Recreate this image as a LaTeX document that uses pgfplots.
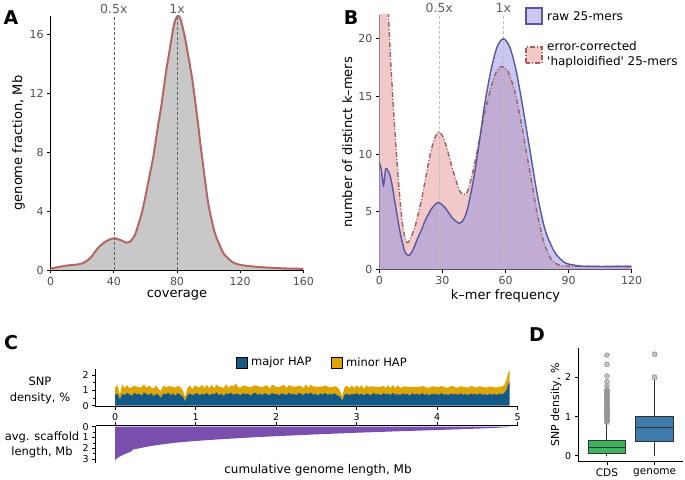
\documentclass[border=0pt]{standalone}
\usepackage{fontspec}
\setmainfont{DejaVu Sans}[Ligatures=TeXOff]
\usepackage{pgfplots}
\usepackage{pgfplotstable}
\pgfplotsset{compat=1.18}
\usepgfplotslibrary{statistics}

\definecolor{tickgray}{RGB}{77,77,77}
\definecolor{labgray}{RGB}{96,96,96}
\definecolor{afill}{RGB}{200,200,200}
\definecolor{aline}{RGB}{180,102,102}
\definecolor{rawline}{RGB}{88,88,160}
\definecolor{rawfill}{RGB}{145,145,225}
\definecolor{ecfill}{RGB}{242,200,200}
\definecolor{ecline}{RGB}{160,96,96}
\definecolor{majblue}{RGB}{20,88,133}
\definecolor{mingold}{RGB}{222,165,0}
\definecolor{scpurple}{RGB}{122,78,172}
\definecolor{cdsgreen}{RGB}{61,181,95}
\definecolor{genblue}{RGB}{62,122,170}
\definecolor{boxline}{RGB}{51,51,51}
\definecolor{outgray}{RGB}{150,150,150}

\pgfplotsset{
  base/.style={scale only axis, anchor=south west,
    axis x line*=bottom, axis y line*=left, tick align=outside,
    axis line style={line width=1.1pt, black},
    every tick/.style={black, line width=0.8pt}, major tick length=3.5pt,
    /pgf/number format/assume math mode=true, clip mode=individual},
}

\pgfplotstableread{
x maj mnr
0.00 0.72 0.48
0.03 0.80 0.55
0.06 0.42 0.30
0.09 0.78 0.62
0.12 0.70 0.45
0.15 0.84 0.52
0.18 0.74 0.40
0.21 0.66 0.56
0.24 0.86 0.46
0.27 0.73 0.52
0.30 0.80 0.40
0.33 0.65 0.58
0.36 0.88 0.52
0.39 0.76 0.42
0.42 0.70 0.62
0.45 0.83 0.38
0.48 0.63 0.50
0.51 0.78 0.56
0.54 0.72 0.36
0.57 0.52 0.45
0.60 0.80 0.54
0.63 0.74 0.48
0.66 0.86 0.40
0.69 0.70 0.58
0.72 0.79 0.44
0.75 0.66 0.53
0.78 0.84 0.46
0.81 0.72 0.50
0.84 0.62 0.40
0.87 0.30 0.26
0.90 0.70 0.46
0.93 0.81 0.53
0.96 0.68 0.40
0.99 0.77 0.56
1.02 0.83 0.42
1.05 0.69 0.50
1.08 0.78 0.60
1.11 0.72 0.44
1.14 0.85 0.52
1.17 0.67 0.47
1.20 0.80 0.58
1.23 0.74 0.41
1.26 0.88 0.50
1.29 0.70 0.55
1.32 0.79 0.45
1.35 0.64 0.52
1.38 0.82 0.60
1.41 0.75 0.42
1.44 0.86 0.48
1.47 0.71 0.56
1.50 0.80 0.66
1.53 0.76 0.44
1.56 0.68 0.52
1.59 0.84 0.47
1.62 0.73 0.58
1.65 0.81 0.43
1.68 0.66 0.55
1.71 0.79 0.50
1.74 0.87 0.46
1.77 0.72 0.60
1.80 0.80 0.42
1.83 0.69 0.53
1.86 0.83 0.48
1.89 0.75 0.56
1.92 0.70 0.44
1.95 0.85 0.51
1.98 0.74 0.58
2.01 0.79 0.42
2.04 0.67 0.55
2.07 0.82 0.49
2.10 0.76 0.61
2.13 0.71 0.44
2.16 0.86 0.50
2.19 0.73 0.56
2.22 0.80 0.43
2.25 0.68 0.58
2.28 0.84 0.47
2.31 0.77 0.52
2.34 0.70 0.45
2.37 0.83 0.57
2.40 0.75 0.42
2.43 0.88 0.50
2.46 0.72 0.55
2.49 0.79 0.46
2.52 0.66 0.58
2.55 0.81 0.44
2.58 0.74 0.52
2.61 0.85 0.48
2.64 0.70 0.56
2.67 0.78 0.42
2.70 0.73 0.50
2.73 0.82 0.46
2.76 0.68 0.54
2.79 0.62 0.40
2.82 0.35 0.28
2.85 0.72 0.48
2.88 0.80 0.52
2.91 0.69 0.45
2.94 0.78 0.56
2.97 0.74 0.42
3.00 0.83 0.50
3.03 0.71 0.47
3.06 0.79 0.55
3.09 0.67 0.44
3.12 0.81 0.52
3.15 0.75 0.48
3.18 0.70 0.57
3.21 0.84 0.43
3.24 0.73 0.51
3.27 0.78 0.46
3.30 0.68 0.54
3.33 0.82 0.49
3.36 0.74 0.42
3.39 0.79 0.55
3.42 0.70 0.47
3.45 0.85 0.50
3.48 0.72 0.44
3.51 0.77 0.56
3.54 0.69 0.48
3.57 0.81 0.42
3.60 0.74 0.53
3.63 0.78 0.47
3.66 0.67 0.55
3.69 0.82 0.44
3.72 0.73 0.50
3.75 0.79 0.46
3.78 0.70 0.52
3.81 0.84 0.45
3.84 0.72 0.55
3.87 0.77 0.42
3.90 0.68 0.50
3.93 0.80 0.47
3.96 0.74 0.53
3.99 0.78 0.44
4.02 0.71 0.51
4.05 0.83 0.46
4.08 0.73 0.52
4.11 0.76 0.43
4.14 0.69 0.50
4.17 0.81 0.47
4.20 0.74 0.54
4.23 0.78 0.42
4.26 0.70 0.49
4.29 0.82 0.46
4.32 0.73 0.52
4.35 0.77 0.44
4.38 0.69 0.50
4.41 0.80 0.48
4.44 0.74 0.53
4.47 0.78 0.43
4.50 0.71 0.49
4.53 0.83 0.46
4.56 0.72 0.51
4.59 0.76 0.44
4.62 0.70 0.50
4.65 0.79 0.47
4.68 0.73 0.52
4.71 0.77 0.43
4.74 0.71 0.48
4.77 0.80 0.46
4.80 0.74 0.50
4.83 0.82 0.52
4.86 1.05 0.62
4.88 1.40 0.75
4.90 1.55 0.78
}\snptab

\begin{document}
\begin{tikzpicture}
\useasboundingbox (0pt,0pt) rectangle (685pt,479pt);

% ---------------- Panel A ----------------
\begin{axis}[base, at={(50.7pt,209pt)}, width=252.6pt, height=254pt,
  xmin=0, xmax=160, ymin=0, ymax=17.24,
  xtick={0,40,80,120,160}, ytick={0,4,8,12,16},
  ticklabel style={font=\fontsize{11}{13}\selectfont, text=tickgray},
  xlabel={coverage}, ylabel={genome fraction, Mb},
  label style={font=\fontsize{13}{15}\selectfont},
  xlabel style={yshift=2pt}, ylabel style={yshift=-2pt}]
\addplot[fill=afill, draw=none, smooth] coordinates {
(0,0.1) (5,0.2) (10,0.3) (15,0.35) (20,0.45) (25,0.8) (30,1.5) (35,1.95)
(40,2.15) (45,2.0) (48,1.85) (50,1.9) (53,2.3) (55,2.9) (58,4.0) (60,5.0)
(63,6.6) (65,7.7) (68,9.8) (70,11.1) (73,13.4) (75,14.7) (78,16.6) (80,17.2)
(82,17.1) (85,15.8) (88,14.0) (90,12.7) (93,10.2) (95,8.4) (98,5.9) (100,4.4)
(103,2.9) (105,2.2) (108,1.45) (110,1.05) (115,0.55) (120,0.35) (130,0.22)
(140,0.15) (150,0.1) (160,0.08)} \closedcycle;
\addplot[color=aline, line width=2pt, smooth] coordinates {
(0,0.1) (5,0.2) (10,0.3) (15,0.35) (20,0.45) (25,0.8) (30,1.5) (35,1.95)
(40,2.15) (45,2.0) (48,1.85) (50,1.9) (53,2.3) (55,2.9) (58,4.0) (60,5.0)
(63,6.6) (65,7.7) (68,9.8) (70,11.1) (73,13.4) (75,14.7) (78,16.6) (80,17.2)
(82,17.1) (85,15.8) (88,14.0) (90,12.7) (93,10.2) (95,8.4) (98,5.9) (100,4.4)
(103,2.9) (105,2.2) (108,1.45) (110,1.05) (115,0.55) (120,0.35) (130,0.22)
(140,0.15) (150,0.1) (160,0.08)};
\addplot[densely dashed, color=labgray, line width=0.6pt] coordinates {(40,0) (40,17.24)};
\addplot[densely dashed, color=labgray, line width=0.6pt] coordinates {(80,0) (80,17.24)};
\node[above, inner sep=2pt, text=labgray, font=\fontsize{12.5}{14}\selectfont] at (axis cs:40,17.24) {0.5x};
\node[above, inner sep=2pt, text=labgray, font=\fontsize{12.5}{14}\selectfont] at (axis cs:80,17.24) {1x};
\end{axis}

% ---------------- Panel B ----------------
\begin{axis}[base, at={(379.3pt,209.7pt)}, width=252.4pt, height=254.3pt,
  xmin=0, xmax=120, ymin=0, ymax=22.07,
  xtick={0,30,60,90,120}, ytick={0,5,10,15,20},
  ticklabel style={font=\fontsize{11}{13}\selectfont, text=tickgray},
  xlabel={k–mer frequency}, ylabel={number of distinct k–mers},
  label style={font=\fontsize{13}{15}\selectfont},
  xlabel style={yshift=2pt}, ylabel style={yshift=-1pt}]
\addplot[fill=ecfill, draw=none, smooth] coordinates {
(0,90) (1,70) (2,52) (3,36) (4,24.5) (5,19.5) (6,16.2) (7,13.2) (8,10.4) (9,7.9)
(10,5.7) (11,4.0) (12,2.9) (13,2.35) (14,2.4) (15,2.8) (17,3.7) (20,6.0) (22,7.9)
(24,9.8) (26,11.2) (28,11.9) (30,11.6) (32,10.6) (35,8.6) (38,6.9) (40,6.5)
(42,6.8) (45,8.9) (48,11.7) (50,13.5) (53,15.7) (55,16.9) (58,17.6) (61,17.2)
(63,16.3) (65,15.0) (68,12.2) (70,10.1) (73,7.0) (75,4.9) (78,2.5) (80,1.5)
(82,0.8) (85,0.4) (90,0.28) (120,0.25)} \closedcycle;
\addplot[fill=rawfill, fill opacity=0.5, draw=none, smooth] coordinates {
(0,9.3) (1,8.6) (2,7.3) (3,8.7) (4,8.6) (5,8.2) (6,7.4) (7,6.3) (8,5.2) (9,4.1)
(10,3.1) (11,2.3) (12,1.6) (13,1.3) (14,1.2) (15,1.35) (16,1.7) (17,2.1) (18,2.6)
(20,3.4) (22,4.3) (25,5.3) (28,5.8) (31,5.4) (33,4.9) (35,4.4) (38,4.0) (40,4.3)
(42,5.3) (45,8.0) (48,11.6) (50,14.2) (53,17.2) (56,19.3) (59,20.0) (62,19.3)
(65,17.3) (68,14.3) (70,12.1) (72,9.9) (75,6.6) (78,4.0) (80,2.8) (83,1.6)
(85,1.1) (88,0.6) (90,0.45) (95,0.3) (100,0.25) (120,0.25)} \closedcycle;
\addplot[densely dashed, color=black!25, line width=0.6pt] coordinates {(28.5,0) (28.5,22.07)};
\addplot[densely dashed, color=black!25, line width=0.6pt] coordinates {(59,0) (59,22.07)};
\addplot[color=ecline, line width=1.4pt, smooth, dash pattern=on 5pt off 2pt on 1pt off 2pt] coordinates {
(0,90) (1,70) (2,52) (3,36) (4,24.5) (5,19.5) (6,16.2) (7,13.2) (8,10.4) (9,7.9)
(10,5.7) (11,4.0) (12,2.9) (13,2.35) (14,2.4) (15,2.8) (17,3.7) (20,6.0) (22,7.9)
(24,9.8) (26,11.2) (28,11.9) (30,11.6) (32,10.6) (35,8.6) (38,6.9) (40,6.5)
(42,6.8) (45,8.9) (48,11.7) (50,13.5) (53,15.7) (55,16.9) (58,17.6) (61,17.2)
(63,16.3) (65,15.0) (68,12.2) (70,10.1) (73,7.0) (75,4.9) (78,2.5) (80,1.5)
(82,0.8) (85,0.4) (90,0.28) (120,0.25)};
\addplot[color=rawline, line width=1.4pt, smooth] coordinates {
(0,9.3) (1,8.6) (2,7.3) (3,8.7) (4,8.6) (5,8.2) (6,7.4) (7,6.3) (8,5.2) (9,4.1)
(10,3.1) (11,2.3) (12,1.6) (13,1.3) (14,1.2) (15,1.35) (16,1.7) (17,2.1) (18,2.6)
(20,3.4) (22,4.3) (25,5.3) (28,5.8) (31,5.4) (33,4.9) (35,4.4) (38,4.0) (40,4.3)
(42,5.3) (45,8.0) (48,11.6) (50,14.2) (53,17.2) (56,19.3) (59,20.0) (62,19.3)
(65,17.3) (68,14.3) (70,12.1) (72,9.9) (75,6.6) (78,4.0) (80,2.8) (83,1.6)
(85,1.1) (88,0.6) (90,0.45) (95,0.3) (100,0.25) (120,0.25)};
\node[above, inner sep=2pt, text=labgray, font=\fontsize{12.5}{14}\selectfont] at (axis cs:28.5,22.07) {0.5x};
\node[above, inner sep=2pt, text=labgray, font=\fontsize{12.5}{14}\selectfont] at (axis cs:59,22.07) {1x};
\end{axis}

% legend B
\fill[rawfill!50!white, draw=rawline, line width=1.2pt] (526pt,455pt) rectangle (542pt,471pt);
\fill[ecfill, draw=ecline, line width=1.2pt, dash pattern=on 5pt off 2pt on 1pt off 2pt] (526pt,416pt) rectangle (542pt,432pt);
\node[anchor=west, font=\fontsize{12}{14}\selectfont, inner sep=0pt] at (547pt,463pt) {raw 25-mers};
\node[anchor=west, align=left, font=\fontsize{12}{15}\selectfont, inner sep=0pt] at (547pt,424pt) {error-corrected\\'haploidified' 25-mers};

% ---------------- Panel C (top) ----------------
\begin{axis}[base, at={(95.7pt,72.3pt)}, width=422.6pt, height=37.4pt,
  xmin=-0.24, xmax=5.007, ymin=-0.066, ymax=2.39,
  stack plots=y,
  xtick={0,1,2,3,4,5}, ytick={0,1,2}, minor ytick={0.5,1.5},
  minor tick length=2.5pt,
  ticklabel style={font=\fontsize{9.5}{10}\selectfont, text=black},
  every minor tick/.style={black, line width=0.8pt}]
\addplot[fill=majblue, draw=none] table[x=x, y=maj] {\snptab} \closedcycle;
\addplot[fill=mingold, draw=none] table[x=x, y=mnr] {\snptab} \closedcycle;
\end{axis}

% ---------------- Panel C (bottom) ----------------
\begin{axis}[base, at={(95.7pt,16.3pt)}, width=422.6pt, height=37pt,
  axis x line*=top, y dir=reverse,
  xmin=-0.24, xmax=5.007, ymin=-0.09, ymax=3.33,
  xtick={0,1,2,3,4,5}, xticklabels={},
  ytick={0,1,2,3}, minor ytick={0.5,1.5,2.5},
  minor tick length=2.5pt,
  ticklabel style={font=\fontsize{9.5}{10}\selectfont, text=black},
  every minor tick/.style={black, line width=0.8pt}]
\addplot[fill=scpurple, draw=none] coordinates {
(0,3.25) (0.01,3.0) (0.05,2.8) (0.1,2.6) (0.15,2.45) (0.2,2.3) (0.22,2.12)
(0.3,2.0) (0.4,1.85) (0.5,1.72) (0.75,1.48) (1,1.32) (1.25,1.19) (1.5,1.08)
(1.75,0.97) (2,0.88) (2.5,0.71) (3,0.56) (3.5,0.43) (4,0.31) (4.5,0.18)
(4.75,0.1) (4.9,0.03)} \closedcycle;
\end{axis}

% C labels and legend
\node[align=center, font=\fontsize{11.5}{16}\selectfont] at (40pt,89pt) {SNP\\density, \%};
\node[align=center, font=\fontsize{11.5}{15}\selectfont] at (42pt,34.5pt) {avg. scaffold\\length, Mb};
\node[font=\fontsize{12}{14}\selectfont] at (318pt,9pt) {cumulative genome length, Mb};
\fill[majblue, draw=black, line width=0.8pt] (236pt,111pt) rectangle (247pt,122pt);
\node[anchor=west, font=\fontsize{11.5}{13}\selectfont, inner sep=0pt] at (251pt,116.5pt) {major HAP};
\fill[mingold, draw=black, line width=0.8pt] (331pt,111pt) rectangle (342pt,122pt);
\node[anchor=west, font=\fontsize{11.5}{13}\selectfont, inner sep=0pt] at (346pt,116.5pt) {minor HAP};

% ---------------- Panel D ----------------
\begin{axis}[base, at={(578.3pt,17.3pt)}, width=105pt, height=113.4pt,
  xmin=0.4, xmax=2.6, ymin=-0.15, ymax=2.74,
  xtick={1,2}, xticklabels={CDS,genome}, ytick={0,1,2},
  ticklabel style={font=\fontsize{10.5}{12}\selectfont, text=black},
  yticklabel style={font=\fontsize{9.5}{11}\selectfont},
  ylabel={SNP density, \%}, label style={font=\fontsize{11}{13}\selectfont},
  ylabel style={yshift=-3pt},
  boxplot/draw direction=y, boxplot/whisker extend=0]
\addplot[boxplot prepared={draw position=1, lower whisker=0, lower quartile=0.06,
  median=0.21, upper quartile=0.38, upper whisker=0.83, box extend=0.79},
  fill=cdsgreen, draw=boxline, line width=1pt,
  mark=*, mark size=2.4pt, mark options={fill=outgray, draw=outgray, line width=0pt, opacity=0.6}]
  coordinates {(0,0.86) (0,0.88) (0,0.91) (0,0.93) (0,0.96) (0,0.98) (0,1.01)
  (0,1.03) (0,1.06) (0,1.08) (0,1.11) (0,1.13) (0,1.16) (0,1.18) (0,1.21)
  (0,1.23) (0,1.26) (0,1.28) (0,1.31) (0,1.34) (0,1.37) (0,1.40) (0,1.43)
  (0,1.46) (0,1.49) (0,1.52) (0,1.55) (0,1.58) (0,1.61) (0,1.64) (0,1.67)
  (0,1.70) (0,1.79) (0,1.89) (0,2.04) (0,2.33) (0,2.57)};
\addplot[boxplot prepared={draw position=2, lower whisker=0, lower quartile=0.37,
  median=0.73, upper quartile=1.01, upper whisker=1.93, box extend=0.79},
  fill=genblue, draw=boxline, line width=1pt,
  mark=*, mark size=2.4pt, mark options={fill=outgray, draw=outgray, line width=0pt, opacity=0.6}]
  coordinates {(0,2.0) (0,2.59)};
\end{axis}

% panel letters
\node[font=\fontsize{19}{20}\selectfont\bfseries] at (11pt,461pt) {A};
\node[font=\fontsize{19}{20}\selectfont\bfseries] at (351pt,461pt) {B};
\node[font=\fontsize{19}{20}\selectfont\bfseries] at (11pt,136pt) {C};
\node[font=\fontsize{19}{20}\selectfont\bfseries] at (537pt,144pt) {D};
\end{tikzpicture}
\end{document}
